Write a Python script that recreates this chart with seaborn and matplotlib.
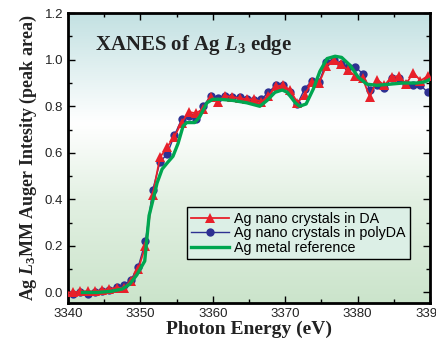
import numpy as np
import pandas as pd
import seaborn as sns
import matplotlib.pyplot as plt
from matplotlib.colors import LinearSegmentedColormap
from matplotlib.ticker import MultipleLocator

plt.rcParams["mathtext.fontset"] = "custom"
plt.rcParams["mathtext.rm"] = "Liberation Serif:bold"
plt.rcParams["mathtext.it"] = "Liberation Serif:italic:bold"
plt.rcParams["mathtext.bf"] = "Liberation Serif:bold"

# energies of the measured points (eV)
energy = np.arange(3339.7, 3390.0, 1.0)

da = [0.0, 0.0, 0.005, 0.005, 0.005, 0.01, 0.015, 0.02, 0.02, 0.05,
      0.10, 0.20, 0.42, 0.58, 0.625, 0.67, 0.73, 0.775, 0.77, 0.79,
      0.84, 0.82, 0.845, 0.84, 0.835, 0.83, 0.83, 0.82, 0.845, 0.885,
      0.89, 0.87, 0.815, 0.85, 0.905, 0.90, 0.975, 1.0, 0.98, 0.955,
      0.93, 0.92, 0.84, 0.915, 0.89, 0.925, 0.93, 0.895, 0.945, 0.91,
      0.93]

polyda = [0.0, -0.005, 0.0, -0.005, 0.0, 0.005, 0.01, 0.025, 0.03, 0.055,
          0.11, 0.22, 0.44, 0.56, 0.595, 0.675, 0.745, 0.76, 0.745, 0.80,
          0.845, 0.835, 0.845, 0.84, 0.84, 0.83, 0.825, 0.83, 0.86, 0.89,
          0.89, 0.86, 0.81, 0.875, 0.91, 0.905, 0.99, 1.0, 0.98, 0.97,
          0.97, 0.94, 0.87, 0.89, 0.88, 0.92, 0.92, 0.895, 0.89, 0.89,
          0.86]

ref_energy = [3342, 3344, 3346, 3347.5, 3348.5, 3349.5, 3350.6, 3351.2, 3352.0, 3352.3,
              3353.0, 3353.8, 3354.5, 3355.2, 3355.9, 3356.4, 3357.5, 3358.2, 3359.2, 3360.0,
              3361.0, 3362.8, 3364.7, 3366.5, 3367.5, 3368.6, 3369.6, 3370.3, 3371.4, 3372.0,
              3372.9, 3373.9, 3374.8, 3375.8, 3376.9, 3377.8, 3379.0, 3380.1, 3381.3, 3382.7,
              3384.5, 3386.3, 3388.2, 3389.3, 3390.3]
ref_metal = [0.0, 0.0, 0.005, 0.015, 0.035, 0.075, 0.135, 0.33, 0.43, 0.47,
             0.53, 0.56, 0.585, 0.64, 0.715, 0.73, 0.73, 0.755, 0.815, 0.83,
             0.83, 0.825, 0.815, 0.80, 0.825, 0.86, 0.87, 0.86, 0.815, 0.80,
             0.81, 0.875, 0.95, 1.005, 1.015, 1.01, 0.975, 0.925, 0.895, 0.89,
             0.895, 0.90, 0.90, 0.905, 0.92]

df_np = pd.DataFrame({"E": energy, "DA": da, "polyDA": polyda})
df_ref = pd.DataFrame({"E": ref_energy, "ref": ref_metal})

fig = plt.figure(figsize=(4.36, 3.47), dpi=100)
ax = fig.add_axes([0.156, 0.127, 0.83, 0.835])

# background gradient: teal top, white middle, green bottom
cmap = LinearSegmentedColormap.from_list(
    "bg", [(0.0, "#cbe4cb"), (0.35, "#e2f0e2"), (0.62, "#ffffff"), (1.0, "#c3e1e2")])
grad = np.linspace(0, 1, 256).reshape(-1, 1)
ax.imshow(grad, cmap=cmap, aspect="auto", origin="lower",
          extent=[3340, 3390, -0.045, 1.2], zorder=0)

sns.lineplot(data=df_np, x="E", y="DA", ax=ax, color="#e8202a", lw=1.3,
             marker="^", markersize=6.5, markeredgewidth=0,
             label="Ag nano crystals in DA", zorder=3)
sns.lineplot(data=df_np, x="E", y="polyDA", ax=ax, color="#2e3192", lw=1.0,
             marker="o", markersize=6, markeredgewidth=0,
             label="Ag nano crystals in polyDA", zorder=2)
sns.lineplot(data=df_ref, x="E", y="ref", ax=ax, color="#00a650", lw=2.4,
             label="Ag metal reference", zorder=4)

ax.set_xlim(3340, 3390)
ax.set_ylim(-0.045, 1.2)
ax.xaxis.set_major_locator(MultipleLocator(10))
ax.xaxis.set_minor_locator(MultipleLocator(5))
ax.yaxis.set_major_locator(MultipleLocator(0.2))
ax.yaxis.set_minor_locator(MultipleLocator(0.1))
ax.yaxis.set_major_formatter(plt.FormatStrFormatter("%.1f"))
ax.tick_params(which="both", direction="in", top=True, right=True,
               labelsize=9.5, labelcolor="#222222", width=1.0)
ax.tick_params(which="major", length=5)
ax.tick_params(which="minor", length=3)
for lab in ax.get_xticklabels() + ax.get_yticklabels():
    lab.set_family("Liberation Sans")
for sp in ax.spines.values():
    sp.set_linewidth(2)

ax.set_xlabel("Photon Energy (eV)", family="Liberation Serif", fontweight="bold",
              fontsize=14, color="#222222", labelpad=1)
ax.set_ylabel("Ag $\\mathit{L}_{3}$MM Auger Intesity (peak area)",
              family="Liberation Serif", fontweight="bold", fontsize=13,
              color="#222222", labelpad=4)
ax.text(0.075, 0.89, "XANES of Ag $\\mathit{L}_{3}$ edge", transform=ax.transAxes,
        family="Liberation Serif", fontweight="bold", fontsize=15,
        color="#222222", va="center", ha="left")

leg = ax.legend(loc="upper left", bbox_to_anchor=(0.329, 0.33), borderaxespad=0,
                prop={"family": "Liberation Sans", "size": 10.3}, fancybox=False,
                framealpha=1, facecolor="#dcefe6", edgecolor="black",
                handlelength=2.6, labelspacing=0.05, borderpad=0.3, handletextpad=0.4)
leg.get_frame().set_linewidth(1.0)

fig.savefig("out.png", dpi=100)
